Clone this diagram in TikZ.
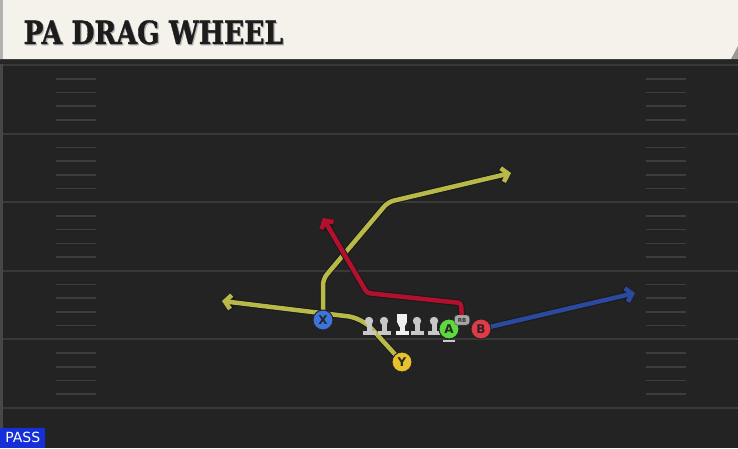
\documentclass[tikz,border=0pt]{standalone}
\usepackage{fontspec}
\usepackage{xcolor}
\usepackage{tikz}
\usetikzlibrary{arrows.meta}
\setsansfont{DejaVu Sans}
\newfontfamily\titlefont{DejaVu Serif}[BoldFeatures={FakeBold=1.2}]
\definecolor{turf}{HTML}{232323}
\definecolor{yardclr}{HTML}{393939}
\definecolor{hashclr}{HTML}{3D3D3D}
\definecolor{banner}{HTML}{F5F2EC}
\definecolor{titleclr}{HTML}{1C1C1C}
\definecolor{routeyel}{HTML}{B9B94A}
\definecolor{routered}{HTML}{B3102E}
\definecolor{routeblu}{HTML}{2B4A9E}
\definecolor{xclr}{HTML}{3B74DA}
\definecolor{yclr}{HTML}{E8C22C}
\definecolor{aclr}{HTML}{5DD93F}
\definecolor{bclr}{HTML}{E23A47}
\definecolor{linegray}{HTML}{C8C8C8}
\definecolor{passblue}{HTML}{1530D8}
\pgfdeclarelayer{field}
\pgfdeclarelayer{routes}
\pgfsetlayers{field,routes,main}
\tikzstyle{yardline} = [draw=yardclr, line width=2pt]
\tikzstyle{hash} = [draw=hashclr, line width=1.6pt]
\tikzstyle{player} = [circle, draw=black!85, line width=1pt, minimum size=20pt,
inner sep=0pt, font=\sffamily\bfseries\fontsize{12}{12}\selectfont, text=black!85]
\tikzstyle{rbtag} = [rectangle, rounded corners=3pt, fill=black!35, draw=black!75,
minimum width=15pt, minimum height=10pt, inner sep=0pt, text=black!80,
font=\sffamily\bfseries\fontsize{5.5}{5.5}\selectfont]
\tikzstyle{route} = [line width=4.5pt, rounded corners=6pt,
-{Straight Barb[length=6pt,width=14pt]}, preaction={draw=black!90, line width=6.5pt}]

\begin{document}
\begin{tikzpicture}[x=1pt, y=-1pt]
        \useasboundingbox (0,0) rectangle (738,448);
        \begin{pgfonlayer}{field}
            \fill[turf] (0,59) rectangle (738,448);
            \fill[black!85] (0,59) rectangle (738,64);
            \fill[black!72] (0,64) rectangle (3,448);
            \foreach \n in {0,...,5}
                \draw[yardline] (3,65+68.6*\n) -- (738,65+68.6*\n);
            \foreach \n in {0,...,4}
                \foreach \k in {1,...,4}{
                    \draw[hash] (56,65+68.6*\n+13.72*\k) -- (96,65+68.6*\n+13.72*\k);
                    \draw[hash] (646,65+68.6*\n+13.72*\k) -- (686,65+68.6*\n+13.72*\k);
                }
            % title banner
            \fill[banner] (0,0) -- (738,0) -- (738,46) -- (731,59) -- (0,59) -- cycle;
            \fill[black!40] (738,46) -- (738,59) -- (731,59) -- cycle;
            \fill[black!30] (0,0) rectangle (3,59);
        \end{pgfonlayer}
        \node[anchor=base west, text=black!30] at (21.2,45.2)
            {\titlefont\bfseries\fontsize{32}{32}\selectfont\scalebox{0.83}[1]{PA DRAG WHEEL}};
        \node[anchor=base west, text=titleclr] (title) at (20,44)
            {\titlefont\bfseries\fontsize{32}{32}\selectfont\scalebox{0.83}[1]{PA DRAG WHEEL}};
        % line
        \foreach \x in {369,384,417,434}{
            \fill[linegray] (\x,321) circle (4.2);
            \fill[linegray] (\x-2.5,321) rectangle (\x+2.5,332);
            \fill[linegray] (\x-6.5,331) rectangle (\x+6.5,335);
        }
        \fill[white!94!black] (397,314) rectangle (407,322);
        \fill[white!94!black] (397,322) -- (407,322) -- (404.5,327) -- (399.5,327) -- cycle;
        \fill[white!94!black] (399.5,327) rectangle (404.5,332);
        \fill[white!94!black] (395.5,331) rectangle (408.5,335);
        \fill[linegray] (443,339.5) rectangle (455,342);
        % players
        \node[player, fill=xclr] (X) at (323,320) {X};
        \node[player, fill=yclr] (Y) at (402,362) {Y};
        \node[player, fill=aclr] (A) at (449,329) {A};
        \node[player, fill=bclr] (B) at (481,329) {B};
        \node[rbtag] (RB) at (462,320) {RB};
        \coordinate (xend) at (511,173);
        \coordinate (yend) at (222,301);
        \coordinate (rbend) at (323,218);
        \coordinate (bend) at (635,293);
        \begin{pgfonlayer}{routes}
            \draw[route, draw=routeyel] (X.center) -- (323,279) -- (388,202) -- (xend);
            \draw[route, draw=routeyel, rounded corners=14pt] (Y.center) -- (362,318) -- (yend);
            \draw[route, draw=routered, rounded corners=3pt] (RB.center) -- (461,303) -- (367,293) -- (rbend);
            \draw[route, draw=routeblu] (B.center) -- (bend);
        \end{pgfonlayer}
        \node[fill=passblue, text=white, anchor=south west, minimum width=45pt,
            minimum height=20pt, inner sep=0pt,
            font=\sffamily\fontsize{14}{14}\selectfont] (play) at (0,448) {PASS};
    \end{tikzpicture}
\end{document}
